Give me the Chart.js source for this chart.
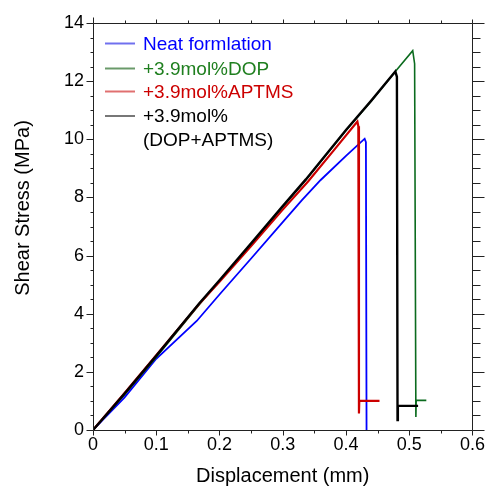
<!DOCTYPE html>
<html>
<head>
<meta charset="utf-8">
<script src="https://cdn.jsdelivr.net/npm/chart.js@4.4.0/dist/chart.umd.min.js"></script>
<style>
  html, body { margin:0; padding:0; background:#fff; }
  #wrap { width:489px; height:489px; }
</style>
</head>
<body>
<div id="wrap"><canvas id="shearChart" width="489" height="489"></canvas></div>
<script>
/* Shear stress vs displacement, lap-shear test curves */

const xTickLabels = ['0', '0.1', '0.2', '0.3', '0.4', '0.5', '0.6'];
const yTickLabels = ['0', '2', '4', '6', '8', '10', '12', '14'];

const seriesNames = ['Neat formlation', '+3.9mol%DOP', '+3.9mol%APTMS', ['+3.9mol%', '(DOP+APTMS)']];
const xTitle = 'Displacement (mm)';
const yTitle = 'Shear Stress (MPa)';

// Neat formulation (blue)
const neatX = [0, 0.05, 0.1, 0.164, 0.2, 0.25, 0.3, 0.33, 0.36, 0.4, 0.4295, 0.4315, 0.4325];
const neatY = [0, 1.12, 2.45, 3.75, 4.66, 5.9, 7.15, 7.9, 8.6, 9.43, 10.02, 9.9, -0.1];

// +3.9mol% DOP (green)
const dopX = [0, 0.05, 0.1, 0.1685, 0.2, 0.25, 0.3, 0.3365, 0.4, 0.44, 0.478, 0.5055, 0.5085, 0.5105, 0.511, 0.527];
const dopY = [0, 1.22, 2.5, 4.33, 5.12, 6.4, 7.68, 8.6, 10.3, 11.32, 12.33, 13.05, 12.6, 0.45, 1.02, 1.02];

// +3.9mol% APTMS (red)
const aptmsX = [0, 0.05, 0.1, 0.1685, 0.2, 0.25, 0.3, 0.34, 0.38, 0.418, 0.4195, 0.4205, 0.421, 0.453];
const aptmsY = [0, 1.27, 2.57, 4.35, 5.1, 6.33, 7.58, 8.55, 9.6, 10.61, 10.45, 0.57, 1.0, 1.0];

// +3.9mol% (DOP+APTMS) (black)
const bothX = [0, 0.05, 0.1, 0.1685, 0.2, 0.25, 0.3, 0.3365, 0.4, 0.44, 0.478, 0.4805, 0.4815, 0.482, 0.514];
const bothY = [0, 1.25, 2.55, 4.37, 5.15, 6.42, 7.7, 8.62, 10.32, 11.33, 12.33, 12.15, 0.34, 0.83, 0.83];

const lineColors   = ['#0000ff', '#0b6b1e', '#cc0000', '#000000'];
const legendLine   = ['#7070ee', '#6a9a6a', '#e07070', '#777777'];
const legendText   = ['#0000ff', '#1f7f1f', '#cc0000', '#000000'];

const FONT = 'Liberation Sans, Arial, sans-serif';

const pairs = (xs, ys) => xs.map((x, i) => ({ x, y: ys[i] }));

// frame + outward ticks on all four sides, y title and the legend
const frameAndLegend = {
  id: 'frameAndLegend',
  afterDraw(chart) {
    const { ctx, chartArea: a, scales: { x, y } } = chart;
    const L = Math.round(a.left) + 0.5, R = Math.round(a.right) + 0.5;
    const T = Math.round(a.top) + 0.5, B = Math.round(a.bottom) + 0.5;
    ctx.save();
    ctx.strokeStyle = '#222';
    ctx.lineWidth = 1;
    ctx.beginPath();
    ctx.rect(L, T, R - L, B - T);
    ctx.moveTo(L, T); ctx.lineTo(L, T - 6);
    for (let i = 0; i <= 12; i++) {
      const px = Math.round(x.getPixelForValue(i * 0.05)) + 0.5;
      const major = i % 2 === 0;
      ctx.moveTo(px, B); ctx.lineTo(px, B + (major ? 5 : 3));
      ctx.moveTo(px, T); ctx.lineTo(px, T - (major ? 4 : 3));
    }
    for (let i = 0; i <= 28; i++) {
      const py = Math.round(y.getPixelForValue(i * 0.5)) + 0.5;
      const major = i % 4 === 0;
      ctx.moveTo(L, py); ctx.lineTo(L - (major ? 7 : 3), py);
      ctx.moveTo(R, py); ctx.lineTo(R + (major ? 12 : 8), py);
    }
    ctx.stroke();

    // y axis title
    ctx.save();
    ctx.translate(23, 208);
    ctx.rotate(-Math.PI / 2);
    ctx.font = '20px ' + FONT;
    ctx.fillStyle = '#000';
    ctx.textAlign = 'center';
    ctx.textBaseline = 'middle';
    ctx.fillText(yTitle, 0, 0);
    ctx.restore();

    // legend
    const rows = [43.5, 68.5, 91.5, 116];
    ctx.font = '19px ' + FONT;
    ctx.textBaseline = 'middle';
    ctx.textAlign = 'left';
    seriesNames.forEach((name, i) => {
      ctx.strokeStyle = legendLine[i];
      ctx.lineWidth = 2;
      ctx.beginPath();
      ctx.moveTo(105, rows[i]); ctx.lineTo(135, rows[i]);
      ctx.stroke();
      ctx.fillStyle = legendText[i];
      const lines = Array.isArray(name) ? name : [name];
      lines.forEach((t, k) => ctx.fillText(t, 143, rows[i] + 1 + k * 24));
    });
    ctx.restore();
  }
};

const ctx = document.getElementById('shearChart');
new Chart(ctx.getContext('2d'), {
  type: 'scatter',
  data: {
    datasets: [
      { label: seriesNames[0], data: pairs(neatX, neatY),   borderColor: lineColors[0], borderWidth: 1.8, order: 3 },
      { label: seriesNames[1], data: pairs(dopX, dopY),     borderColor: lineColors[1], borderWidth: 1.6, order: 2 },
      { label: seriesNames[2], data: pairs(aptmsX, aptmsY), borderColor: lineColors[2], borderWidth: 2.2, order: 1 },
      { label: seriesNames[3].join(' '), data: pairs(bothX, bothY), borderColor: lineColors[3], borderWidth: 2.4, order: 0 },
    ].map(d => ({ ...d, showLine: true, pointRadius: 0, tension: 0, fill: false, backgroundColor: d.borderColor }))
  },
  options: {
    responsive: false,
    animation: false,
    layout: { padding: { top: 23, right: 15, left: 0, bottom: 0 } },
    plugins: { legend: { display: false }, tooltip: { enabled: false } },
    scales: {
      x: {
        type: 'linear', min: 0, max: 0.6,
        afterFit: s => { s.height = 59; },
        afterBuildTicks: s => { s.ticks = xTickLabels.map(v => ({ value: parseFloat(v) })); },
        ticks: { callback: (v, i) => xTickLabels[i], color: '#000', padding: 4, font: { family: FONT, size: 18 }, maxRotation: 0 },
        grid: { display: false, drawTicks: false },
        border: { display: false },
        title: { display: true, text: xTitle, color: '#000', font: { family: FONT, size: 20 }, padding: { top: 0, bottom: 1 } }
      },
      y: {
        type: 'linear', min: 0, max: 14,
        afterFit: s => { s.width = 93; },
        afterBuildTicks: s => { s.ticks = yTickLabels.map(v => ({ value: parseFloat(v) })); },
        ticks: { callback: (v, i) => yTickLabels[i], color: '#000', padding: 9, font: { family: FONT, size: 18 } },
        grid: { display: false, drawTicks: false },
        border: { display: false },
        title: { display: false }
      }
    }
  },
  plugins: [frameAndLegend]
});
</script>
</body>
</html>
